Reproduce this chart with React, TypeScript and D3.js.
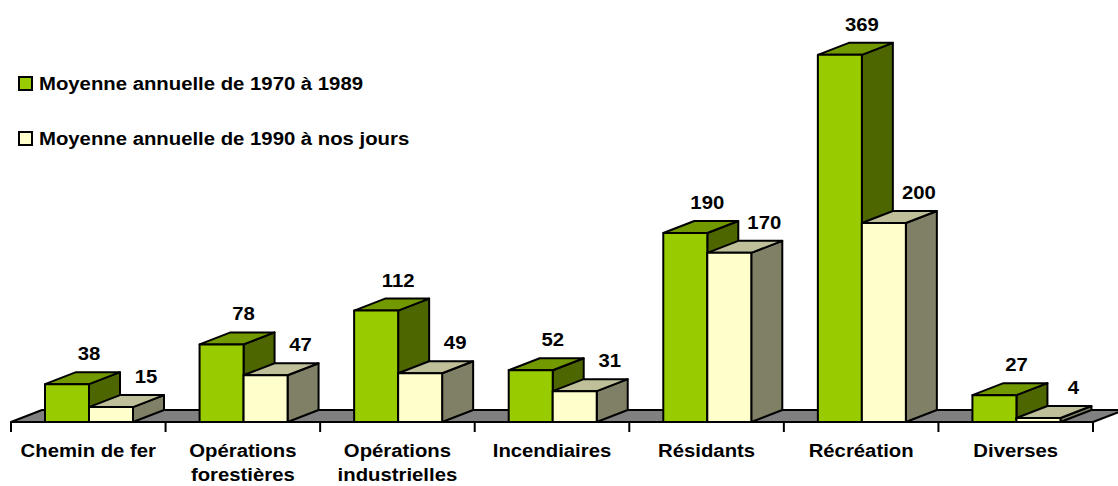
import { useMemo } from "react";
import * as d3 from "d3";

const categories = [
  ["Chemin de fer"],
  ["Opérations", "forestières"],
  ["Opérations", "industrielles"],
  ["Incendiaires"],
  ["Résidants"],
  ["Récréation"],
  ["Diverses"],
];
const seriesNames = ["Moyenne annuelle de 1970 à 1989", "Moyenne annuelle de 1990 à nos jours"];
const before1990 = [38, 78, 112, 52, 190, 369, 27];
const since1990 = [15, 47, 49, 31, 170, 200, 4];

// front / top / side shades for each series
const palette = [
  { front: "#99CC00", top: "#739900", side: "#4D6600" },
  { front: "#FFFFCC", top: "#BFBF99", side: "#808066" },
];

const W = 1118;
const H = 486;
const baseY = 422;
const depthX = 31;
const depthY = -12;
const font = "'Liberation Sans', Arial, sans-serif";
const stretch = 1.07;
const fs = 19;

export default function App() {
  const keys = categories.map((c) => c.join(" "));
  const x0 = useMemo(() => d3.scaleBand<string>().domain(keys).range([11, 1093]), []);
  const x1 = useMemo(() => d3.scaleBand<number>().domain([0, 1]).range([34, 122]), []);
  const y = useMemo(() => d3.scaleLinear().domain([0, 400]).range([baseY, 24]), []);
  const seriesValues = [before1990, since1990];
  const [r0, r1] = x0.range();

  const pts = (p: [number, number][]) => p.map((q) => q.join(",")).join(" ");

  return (
    <svg width={W} height={H} viewBox={`0 0 ${W} ${H}`} style={{ display: "block", position: "absolute", left: 0, top: 0 }}>
      <rect width={W} height={H} fill="#fff" />

      {/* floor */}
      <polygon
        points={pts([[r0, baseY], [r1, baseY], [r1 + depthX, baseY + depthY], [r0 + depthX, baseY + depthY]])}
        fill="#808080" stroke="#000" strokeWidth={2} strokeLinejoin="round"
      />

      {/* bars */}
      {keys.map((k, i) => (
        <g key={k}>
          {seriesValues.map((vals, s) => {
            const x = (x0(k) ?? 0) + (x1(s) ?? 0);
            const w = x1.bandwidth();
            const top = y(vals[i]);
            const c = palette[s];
            return (
              <g key={s} stroke="#000" strokeWidth={2} strokeLinejoin="round">
                <polygon points={pts([[x + w, top], [x + w + depthX, top + depthY], [x + w + depthX, baseY + depthY], [x + w, baseY]])} fill={c.side} />
                <polygon points={pts([[x, top], [x + w, top], [x + w + depthX, top + depthY], [x + depthX, top + depthY]])} fill={c.top} />
                <rect x={x} y={top} width={w} height={baseY - top} fill={c.front} />
              </g>
            );
          })}
        </g>
      ))}

      {/* value labels */}
      {keys.map((k, i) =>
        seriesValues.map((vals, s) => {
          const x = (x0(k) ?? 0) + (x1(s) ?? 0) + x1.bandwidth() / 2 + (s === 0 ? 22 : 35);
          return (
            <text key={`${k}-${s}`} transform={`translate(${x},${y(vals[i]) - 24}) scale(${stretch},1)`}
              textAnchor="middle" fontFamily={font} fontWeight="bold" fontSize={fs} fill="#000">
              {vals[i]}
            </text>
          );
        })
      )}

      {/* x axis ticks */}
      {[...keys.map((k) => x0(k) ?? 0), r1].map((tx, i) => (
        <line key={i} x1={tx} x2={tx} y1={baseY} y2={432} stroke="#000" strokeWidth={2} />
      ))}

      {/* category labels */}
      {categories.map((lines, i) => {
        const cx = (x0(keys[i]) ?? 0) + x0.bandwidth() / 2;
        return lines.map((ln, j) => (
          <text key={`${i}-${j}`} transform={`translate(${cx},${457 + j * 24}) scale(${stretch},1)`}
            textAnchor="middle" fontFamily={font} fontWeight="bold" fontSize={fs} fill="#000">
            {ln}
          </text>
        ));
      })}

      {/* legend */}
      {seriesNames.map((name, s) => (
        <g key={name} transform={`translate(19,${77 + s * 55})`}>
          <rect width={13} height={13} fill={palette[s].front} stroke="#000" strokeWidth={2} />
          <text transform={`translate(20,13) scale(${stretch},1)`} fontFamily={font} fontWeight="bold" fontSize={fs} fill="#000">
            {name}
          </text>
        </g>
      ))}
    </svg>
  );
}
